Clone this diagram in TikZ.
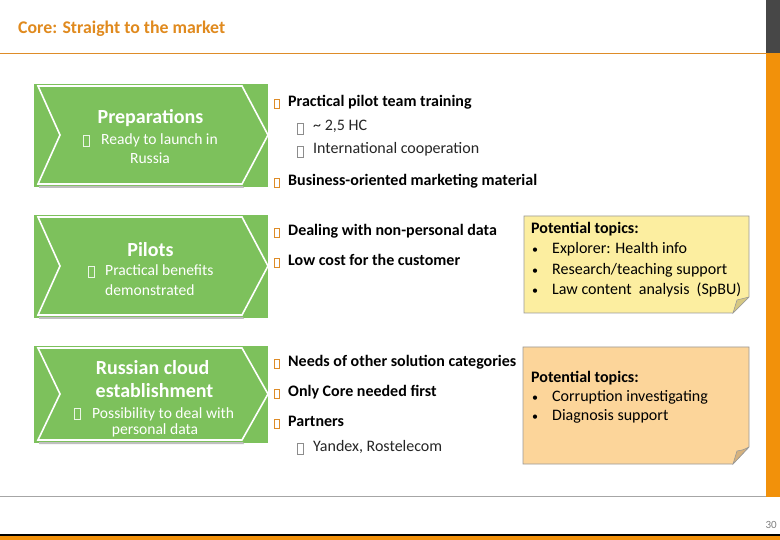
\documentclass[tikz,border=0pt]{standalone}
\usepackage{fontspec}
\setmainfont{Carlito}
\definecolor{ttl}{RGB}{224,138,30}
\definecolor{orln}{RGB}{222,140,40}
\definecolor{orbar}{RGB}{242,145,10}
\definecolor{dkbar}{RGB}{71,71,71}
\definecolor{grn}{RGB}{125,193,92}
\definecolor{note1}{RGB}{252,238,160}
\definecolor{note2}{RGB}{252,213,154}
\definecolor{fold1}{RGB}{214,200,130}
\definecolor{fold2}{RGB}{214,178,125}
\tikzset{
  chev/.style={fill=grn, draw=white, line width=1.6pt, line join=miter},
  chevshadow/.style={fill=black!25, draw=none},
  ctitle/.style={anchor=base, text=white, font=\fontsize{20}{22}\selectfont\bfseries, inner sep=0},
  ctext/.style={anchor=base, text=white, font=\fontsize{15.6}{17}\selectfont, inner sep=0},
  lbold/.style={anchor=base west, font=\fontsize{16}{18}\selectfont\bfseries, inner sep=0},
  lnorm/.style={anchor=base west, font=\fontsize{16}{18}\selectfont, text=black!85, inner sep=0},
  ntext/.style={anchor=base west, font=\fontsize{16}{18}\selectfont, inner sep=0},
  nbold/.style={anchor=base west, font=\fontsize{16}{18}\selectfont\bfseries, inner sep=0},
  ndot/.style={anchor=base west, font=\fontsize{12}{14}\selectfont, inner sep=0},
  obox/.style={draw=orln, line width=0.7pt, minimum width=5.5pt, minimum height=9.5pt, inner sep=0},
  gbox/.style={draw=black!45, line width=0.7pt, minimum width=6.5pt, minimum height=10.5pt, inner sep=0},
  wbox/.style={draw=white!85!grn, line width=0.7pt, minimum width=6pt, minimum height=11pt, inner sep=0},
  note/.style={draw=black!40, line width=0.6pt},
}
\begin{document}
\begin{tikzpicture}[x=1pt,y=-1pt]
\useasboundingbox (0,0) rectangle (780,540);
\fill[white] (0,0) rectangle (780,540);
% header
\node[anchor=base west, text=ttl, font=\fontsize{17.8}{20}\selectfont\bfseries, inner sep=0] (title) at (18,34) {Core: Straight to the market};
\fill[dkbar] (766,0) rectangle (780,53.5);
\fill[orbar] (766,53.5) rectangle (780,497);
\draw[orln, line width=1.2pt] (0,53.5) -- (766,53.5);
% footer
\draw[black!35, line width=1pt] (0,496.5) -- (766,496.5);
\fill[black] (0,534) rectangle (780,535.5);
\fill[orbar] (0,535.5) rectangle (780,540);
\node[anchor=base east, text=black!50, font=\fontsize{11}{13}\selectfont, inner sep=0] (pnum) at (777,528) {30};

% ---------- chevron 1
\fill[grn] (34,84) rectangle (268,187);
\fill[chevshadow] (39,186) -- (243,186) -- (244,188) -- (39,188) -- cycle;
\draw[chev] (38,86) -- (242,86) -- (268,135) -- (242,184) -- (38,184) -- (60,135) -- cycle;
\node[ctitle] (c1t) at (150.5,124) {Preparations};
\node[wbox] (c1b) at (86,141) {};
\node[ctext, anchor=base west] (c1l1) at (101,145) {Ready to launch in};
\node[ctext] (c1l2) at (150,163.5) {Russia};

% ---------- chevron 2
\fill[grn] (34,215) rectangle (268,318);
\fill[chevshadow] (39,317) -- (243,317) -- (244,319) -- (39,319) -- cycle;
\draw[chev] (38,217) -- (242,217) -- (268,266) -- (242,315) -- (38,315) -- (60,266) -- cycle;
\node[ctitle] (c2t) at (150.5,256.5) {Pilots};
\node[wbox] (c2b) at (91,272) {};
\node[ctext, anchor=base west] (c2l1) at (105,276) {Practical benefits};
\node[ctext, anchor=base west] (c2l2) at (105,295.5) {demonstrated};

% ---------- chevron 3
\fill[grn] (34,346) rectangle (268,443);
\fill[chevshadow] (39,442) -- (243,442) -- (244,444) -- (39,444) -- cycle;
\draw[chev] (38,348) -- (242,348) -- (268,394) -- (242,440) -- (38,440) -- (60,394) -- cycle;
\node[ctitle] (c3t) at (152.5,374.5) {Russian cloud};
\node[ctitle] (c3u) at (154.5,397.5) {establishment};
\node[wbox] (c3b) at (77,414) {};
\node[ctext, anchor=base west] (c3l1) at (92,418) {Possibility to deal with};
\node[ctext] (c3l2) at (155,435) {personal data};

% ---------- list 1
\node[obox] (b11) at (277,104) {};
\node[lbold] (t11) at (288,106.5) {Practical pilot team training};
\node[gbox] (b12) at (300.5,129) {};
\node[lnorm] (t12) at (313,130.5) {\textasciitilde\ 2,5 HC};
\node[gbox] (b13) at (300.5,152) {};
\node[lnorm] (t13) at (313,153.5) {International cooperation};
\node[obox] (b14) at (277,183) {};
\node[lbold] (t14) at (288,185.5) {Business-oriented marketing material};

% ---------- list 2
\node[obox] (b21) at (277,233) {};
\node[lbold] (t21) at (288,235.5) {Dealing with non-personal data};
\node[obox] (b22) at (277,263) {};
\node[lbold] (t22) at (288,265.5) {Low cost for the customer};

% ---------- list 3
\node[obox] (b31) at (277,364) {};
\node[lbold] (t31) at (288,366.5) {Needs of other solution categories};
\node[obox] (b32) at (277,394) {};
\node[lbold] (t32) at (288,396.5) {Only Core needed first};
\node[obox] (b33) at (277,424) {};
\node[lbold] (t33) at (288,426.5) {Partners};
\node[gbox] (b34) at (300.5,449) {};
\node[lnorm] (t34) at (313,451.5) {Yandex, Rostelecom};

% ---------- note 1
\draw[note, fill=note1] (524,216) -- (749,216) -- (749,297) -- (733,313) -- (524,313) -- cycle;
\draw[note, fill=fold1] (749,297) -- (733,313) .. controls (735,306) .. (737,300) .. controls (743,299) .. (749,297);
\node[nbold] (n1h) at (531,234) {Potential topics:};
\node[ndot] (n1d1) at (532,253.5) {\textbullet};
\node[ntext] (n1a) at (552,253.5) {Explorer: Health info};
\node[ndot] (n1d2) at (532,275) {\textbullet};
\node[ntext] (n1b) at (552,275) {Research/teaching support};
\node[ndot] (n1d3) at (532,294.5) {\textbullet};
\node[ntext] (n1c) at (552,294.5) {Law content\ \ analysis\ \ (SpBU)};

% ---------- note 2
\draw[note, fill=note2] (523,347) -- (749,347) -- (749,447) -- (733,464) -- (523,464) -- cycle;
\draw[note, fill=fold2] (749,447) -- (733,464) .. controls (735,457) .. (737,451) .. controls (743,450) .. (749,447);
\node[nbold] (n2h) at (531,383) {Potential topics:};
\node[ndot] (n2d1) at (532,402) {\textbullet};
\node[ntext] (n2a) at (552,402) {Corruption investigating};
\node[ndot] (n2d2) at (532,420.5) {\textbullet};
\node[ntext] (n2b) at (552,420.5) {Diagnosis support};
\end{tikzpicture}
\end{document}
